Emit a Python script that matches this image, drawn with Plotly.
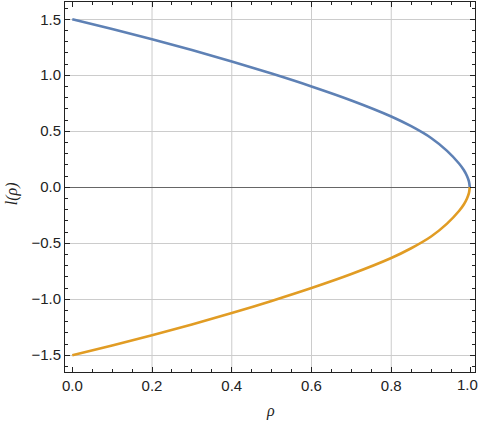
"""
Curva l(rho): rama positiva y rama negativa
"""
import plotly.graph_objects as go

# valores
rho = [0.0, 0.1, 0.2, 0.3, 0.4, 0.5, 0.6, 0.7, 0.8, 0.85, 0.9, 0.94, 0.97, 0.982, 0.99, 0.995, 0.997]
l_upper = [1.50, 1.413, 1.322, 1.225, 1.123, 1.015, 0.90, 0.775, 0.632, 0.545, 0.44, 0.325, 0.212, 0.154, 0.10, 0.05, 0.0]
l_lower = [-1.50, -1.413, -1.322, -1.225, -1.123, -1.015, -0.90, -0.775, -0.632, -0.545, -0.44, -0.325, -0.212, -0.154, -0.10, -0.05, 0.0]

x_ticks = [0.0, 0.2, 0.4, 0.6, 0.8, 1.0]
x_labels = ["0.0", "0.2", "0.4", "0.6", "0.8", "1.0"]
x_grid = [0.2, 0.4, 0.6, 0.8]
y_ticks = [-1.5, -1.0, -0.5, 0.0, 0.5, 1.0, 1.5]
y_labels = ["\u22121.5", "\u22121.0", "\u22120.5", "0.0", "0.5", "1.0", "1.5"]

fig = go.Figure()

fig.add_trace(go.Scatter(
    x=rho, y=l_upper, mode='lines',
    line=dict(color='#5E81B5', width=2.6, shape='spline', smoothing=1.0),
    showlegend=False
))
fig.add_trace(go.Scatter(
    x=rho, y=l_lower, mode='lines',
    line=dict(color='#E19C24', width=2.6, shape='spline', smoothing=1.0),
    showlegend=False
))

tick_font = dict(family='Liberation Sans, Arial', size=15, color='#222')
title_font = dict(family='Liberation Serif', size=16, color='#222', style='italic')

axis_common = dict(
    showline=True, linecolor='#222', linewidth=1, mirror='allticks',
    ticks='inside', ticklen=5, tickcolor='#222', tickwidth=1,
    tickfont=tick_font, automargin=False,
)

# la etiqueta 1.0 queda pegada al borde derecho; se dibuja como anotacion
x_ticktext = x_labels[:-1] + [""]

# rejilla vertical solo en los ticks interiores (como en Mathematica)
grid_shapes = [
    dict(type='line', xref='x', yref='paper', x0=g, x1=g, y0=0, y1=1,
         line=dict(color='#cccccc', width=1), layer='below')
    for g in x_grid
]

fig.update_layout(
    width=480, height=422,
    margin=dict(l=65, r=5, t=2, b=50),
    plot_bgcolor='white', paper_bgcolor='white',
    xaxis=dict(
        range=[-0.0183, 1.0101],
        tickvals=x_ticks, ticktext=x_ticktext,
        minor=dict(ticks='inside', ticklen=3, tickcolor='#222', dtick=0.05, showgrid=False),
        showgrid=False, zeroline=False,
        **axis_common
    ),
    yaxis=dict(
        range=[-1.65, 1.654],
        tickvals=y_ticks, ticktext=y_labels,
        minor=dict(ticks='inside', ticklen=3, tickcolor='#222', dtick=0.1, showgrid=False),
        showgrid=True, gridcolor='#cccccc', gridwidth=1,
        zeroline=True, zerolinecolor='#666', zerolinewidth=1,
        **axis_common
    ),
    shapes=grid_shapes,
    annotations=[
        dict(text=x_labels[-1], xref='paper', yref='paper', x=1.0, y=-0.035,
             xanchor='right', yanchor='middle', xshift=5, showarrow=False, font=tick_font),
        dict(text='\u03c1', xref='paper', yref='paper', x=0.5, y=-0.105,
             xanchor='center', yanchor='middle', showarrow=False, font=title_font),
        dict(text='l(\u03c1)', xref='paper', yref='paper', x=-0.1286, y=0.481,
             xanchor='center', yanchor='middle', textangle=-90, showarrow=False,
             font=title_font),
    ],
)

# quitar el margen por defecto del body para que la figura empiece en (0, 0)
fig.write_html("out.html", config={'displayModeBar': False},
               post_script="document.body.style.margin='0px';")
